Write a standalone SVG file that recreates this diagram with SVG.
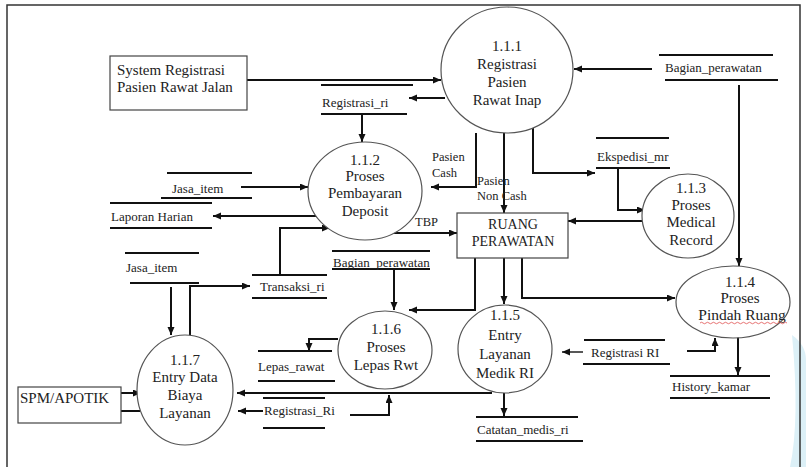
<svg xmlns="http://www.w3.org/2000/svg" width="806" height="467" viewBox="0 0 806 467">
<defs>
<marker id="ah" markerUnits="userSpaceOnUse" markerWidth="9" markerHeight="8" refX="8" refY="3.5" orient="auto">
<path d="M0,0 L8,3.5 L0,7 z" fill="#111"/>
</marker>
<style>
.t{font-family:"Liberation Serif","Times New Roman",serif;fill:#222;}
.c{font-size:15px;text-anchor:middle;}
.s{font-size:13px;}
.l{font-size:12.5px;}
.p{fill:#fff;stroke:#555;stroke-width:1.2;}
.b{fill:#fff;stroke:#444;stroke-width:1.2;}
.st{stroke:#111;stroke-width:2;fill:none;}
.cn path{stroke:#111;stroke-width:2;fill:none;marker-end:url(#ah);}
</style>
</defs>
<rect width="806" height="467" fill="#fff"/>
<path d="M792,335 Q806,345 806,360 V467 H790 Q800,420 792,335 z" fill="#dcf0f7"/>
<path d="M7,467 V5 H800 V467" fill="none" stroke="#333" stroke-width="1.5"/>

<g class="cn" id="connectors">
<path d="M247,80 H441"/>
<path d="M652,69 H574"/>
<path d="M445,98 H409"/>
<path d="M362,114 V142"/>
<path d="M241,187 H308"/>
<path d="M320,216 H213"/>
<path d="M392,233 H457"/>
<path d="M280,275 V228 H330"/>
<path d="M476,133 V187 H431"/>
<path d="M504,133 V213"/>
<path d="M533,128 V173 H595"/>
<path d="M618,168 V210 H645"/>
<path d="M642,221 H568"/>
<path d="M739,85 V266"/>
<path d="M522,258 V298 H675"/>
<path d="M504,258 V304"/>
<path d="M475,258 V310 H409"/>
<path d="M394,269 V310"/>
<path d="M338,339 H309 V351"/>
<path d="M171,287 V335"/>
<path d="M190,336 V286 H250"/>
<path d="M110,393 H141"/>
<path d="M140,411 H112"/>
<path d="M492,393 H237"/>
<path d="M263,411 H238"/>
<path d="M350,415 H389 V395"/>
<path d="M504,393 V416"/>
<path d="M583,352 H562" style="stroke-width:1.4"/>
<path d="M687,351 H715 V338"/>
<path d="M738,337 V375"/>
</g>

<g id="ext-system">
<rect class="b" x="110" y="56" width="137" height="54"/>
<text class="t" x="117" y="75" style="font-size:15px">System Registrasi</text>
<text class="t" x="117" y="92" style="font-size:15px">Pasien Rawat Jalan</text>
</g>

<g id="ext-spm">
<rect class="b" x="18" y="387" width="103" height="36"/>
<text class="t" x="20" y="403" style="font-size:15px">SPM/APOTIK</text>
</g>

<g id="ruang">
<rect class="b" x="457" y="213" width="111" height="45"/>
<text class="t" x="513" y="229" style="font-size:14px;text-anchor:middle">RUANG</text>
<text class="t" x="513" y="246" style="font-size:14px;text-anchor:middle">PERAWATAN</text>
</g>

<g id="p111">
<ellipse class="p" cx="507" cy="70" rx="66" ry="63"/>
<text class="t c" x="507" y="51">1.1.1</text>
<text class="t c" x="507" y="69">Registrasi</text>
<text class="t c" x="507" y="87">Pasien</text>
<text class="t c" x="507" y="105">Rawat Inap</text>
</g>

<g id="p112">
<ellipse class="p" cx="365" cy="191" rx="57" ry="49"/>
<text class="t c" x="365" y="165">1.1.2</text>
<text class="t c" x="365" y="181">Proses</text>
<text class="t c" x="365" y="198">Pembayaran</text>
<text class="t c" x="365" y="216">Deposit</text>
</g>

<g id="p113">
<ellipse class="p" cx="688" cy="216" rx="46" ry="42"/>
<text class="t c" x="691" y="193">1.1.3</text>
<text class="t c" x="691" y="210">Proses</text>
<text class="t c" x="691" y="227">Medical</text>
<text class="t c" x="691" y="245">Record</text>
</g>

<g id="p114">
<ellipse class="p" cx="733" cy="302" rx="57" ry="36"/>
<text class="t c" x="740" y="287">1.1.4</text>
<text class="t c" x="740" y="303">Proses</text>
<text class="t c" x="742" y="320" style="font-size:15.5px">Pindah Ruang</text>
<path d="M700,323 q1.5,-1.5 3,0 t3,0 t3,0 t3,0 t3,0 t3,0 t3,0 t3,0 t3,0 t3,0 t3,0 t3,0 t3,0 t3,0 t3,0 t3,0 t3,0 t3,0 t3,0 t3,0 t3,0 t3,0 t3,0 t3,0 t3,0 t3,0 t3,0 t3,0 t3,0" fill="none" stroke="#e05050" stroke-width="0.8"/>
</g>

<g id="p115">
<ellipse class="p" cx="505" cy="349" rx="47" ry="44"/>
<text class="t c" x="505" y="320">1.1.5</text>
<text class="t c" x="505" y="340">Entry</text>
<text class="t c" x="505" y="359">Layanan</text>
<text class="t c" x="505" y="378">Medik RI</text>
</g>

<g id="p116">
<ellipse class="p" cx="385" cy="350" rx="47" ry="39"/>
<text class="t c" x="386" y="334">1.1.6</text>
<text class="t c" x="386" y="352">Proses</text>
<text class="t c" x="386" y="370">Lepas Rwt</text>
</g>

<g id="p117">
<ellipse class="p" cx="185" cy="390" rx="48" ry="55"/>
<text class="t c" x="185" y="365">1.1.7</text>
<text class="t c" x="185" y="382">Entry Data</text>
<text class="t c" x="185" y="400">Biaya</text>
<text class="t c" x="185" y="418">Layanan</text>
</g>

<g id="ds-bagian-top">
<path class="st" d="M659,55 H773 M665,80 H778"/>
<text class="t s" x="665" y="72">Bagian_perawatan</text>
</g>
<g id="ds-registrasi-ri">
<path class="st" d="M321,85 H413 M321,114 H407"/>
<text class="t s" x="322" y="107">Registrasi_ri</text>
</g>
<g id="ds-jasa-top">
<path class="st" d="M167,173 H252 M161,198 H252"/>
<text class="t s" x="172" y="193">Jasa_item</text>
</g>
<g id="ds-laporan">
<path class="st" d="M110,203 H212 M110,228 H212"/>
<text class="t s" x="111" y="221">Laporan Harian</text>
</g>
<g id="ds-ekspedisi">
<path class="st" d="M596,138 H669 M596,168 H670"/>
<text class="t s" x="597" y="161">Ekspedisi_mr</text>
</g>
<g id="ds-jasa-2">
<path class="st" d="M125,253 H199 M130,283 H199"/>
<text class="t s" x="126" y="272">Jasa_item</text>
</g>
<g id="ds-transaksi">
<path class="st" d="M252,275 H327 M252,298 H327"/>
<text class="t s" x="260" y="291">Transaksi_ri</text>
</g>
<g id="ds-bagian-mid">
<path class="st" d="M332,251 H430 M332,269 H430"/>
<text class="t s" x="333" y="267">Bagian_perawatan</text>
</g>
<g id="ds-lepas">
<path class="st" d="M258,351 H332 M258,381 H335"/>
<text class="t s" x="258" y="371">Lepas_rawat</text>
</g>
<g id="ds-registrasi-Ri">
<path class="st" d="M263,398 H325 M263,428 H325"/>
<text class="t s" x="264" y="415">Registrasi_Ri</text>
</g>
<g id="ds-catatan">
<path class="st" d="M476,417 H578 M476,441 H583"/>
<text class="t s" x="477" y="434">Catatan_medis_ri</text>
</g>
<g id="ds-registrasi-RI">
<path class="st" d="M584,340 H665 M583,364 H670"/>
<text class="t s" x="591" y="357">Registrasi RI</text>
</g>
<g id="ds-history">
<path class="st" d="M670,376 H770 M670,398 H770"/>
<text class="t s" x="672" y="391">History_kamar</text>
</g>

<g id="labels">
<text class="t l" x="432" y="161">Pasien</text>
<text class="t l" x="432" y="177">Cash</text>
<text class="t l" x="477" y="185">Pasien</text>
<text class="t l" x="477" y="200">Non Cash</text>
<text class="t l" x="415" y="226">TBP</text>
</g>
</svg>
